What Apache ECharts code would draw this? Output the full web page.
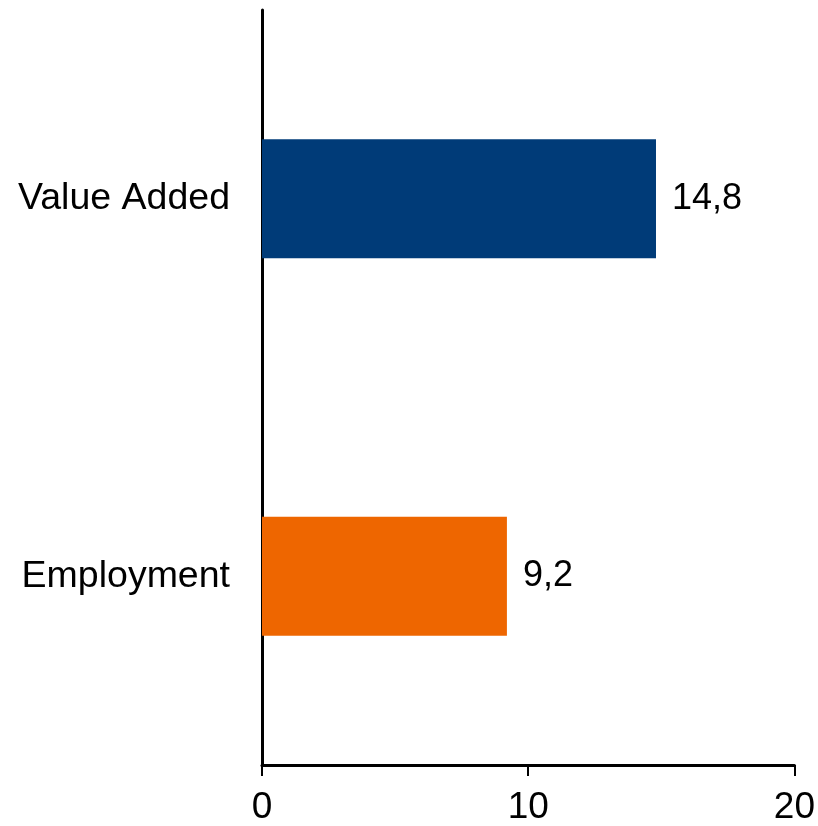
<!DOCTYPE html>
<html>
<head>
<meta charset="utf-8">
<script src="https://cdn.jsdelivr.net/npm/echarts@6/dist/echarts.min.js"></script>
<style>
  html, body { margin: 0; padding: 0; background: #fff; }
  #chart { width: 818px; height: 826px; }
</style>
</head>
<body>
<div id="chart"></div>
<script>
// Categories and values (shares, comma as decimal separator in labels)
const categories = ['Value Added', 'Employment'];
const values = [14.8, 9.2];
const barColors = ['#003B78', '#EE6600'];
const xTicks = [0, 10, 20];

const FONT = '"Liberation Sans", Arial, Helvetica, sans-serif';

const chart = echarts.init(document.getElementById('chart'), null, { renderer: 'canvas' });

chart.setOption({
  animation: false,
  backgroundColor: '#ffffff',
  grid: { left: 262, right: 23, top: 10, bottom: 58, containLabel: false },
  xAxis: {
    type: 'value',
    min: xTicks[0],
    max: xTicks[xTicks.length - 1],
    interval: xTicks[1] - xTicks[0],
    axisLine: { show: true, onZero: false, lineStyle: { color: '#000', width: 3 } },
    axisTick: { show: true, length: 11, lineStyle: { color: '#000', width: 2 } },
    splitLine: { show: false },
    axisLabel: {
      color: '#000', fontFamily: FONT, fontSize: 37, margin: 24,
      formatter: v => String(v)
    }
  },
  yAxis: {
    type: 'category',
    data: categories,
    inverse: true,
    axisLine: { show: true, lineStyle: { color: '#000', width: 3 } },
    axisTick: { show: false },
    axisLabel: { color: '#000', fontFamily: FONT, fontSize: 37.5, margin: 32 }
  },
  series: [{
    type: 'bar',
    barWidth: 119,
    data: values.map((v, i) => ({ value: v, itemStyle: { color: barColors[i] } })),
    label: {
      show: true,
      position: 'right',
      distance: 16,
      color: '#000',
      fontFamily: FONT,
      fontSize: 36,
      formatter: p => String(p.value).replace('.', ',')
    }
  }]
});
</script>
</body>
</html>
